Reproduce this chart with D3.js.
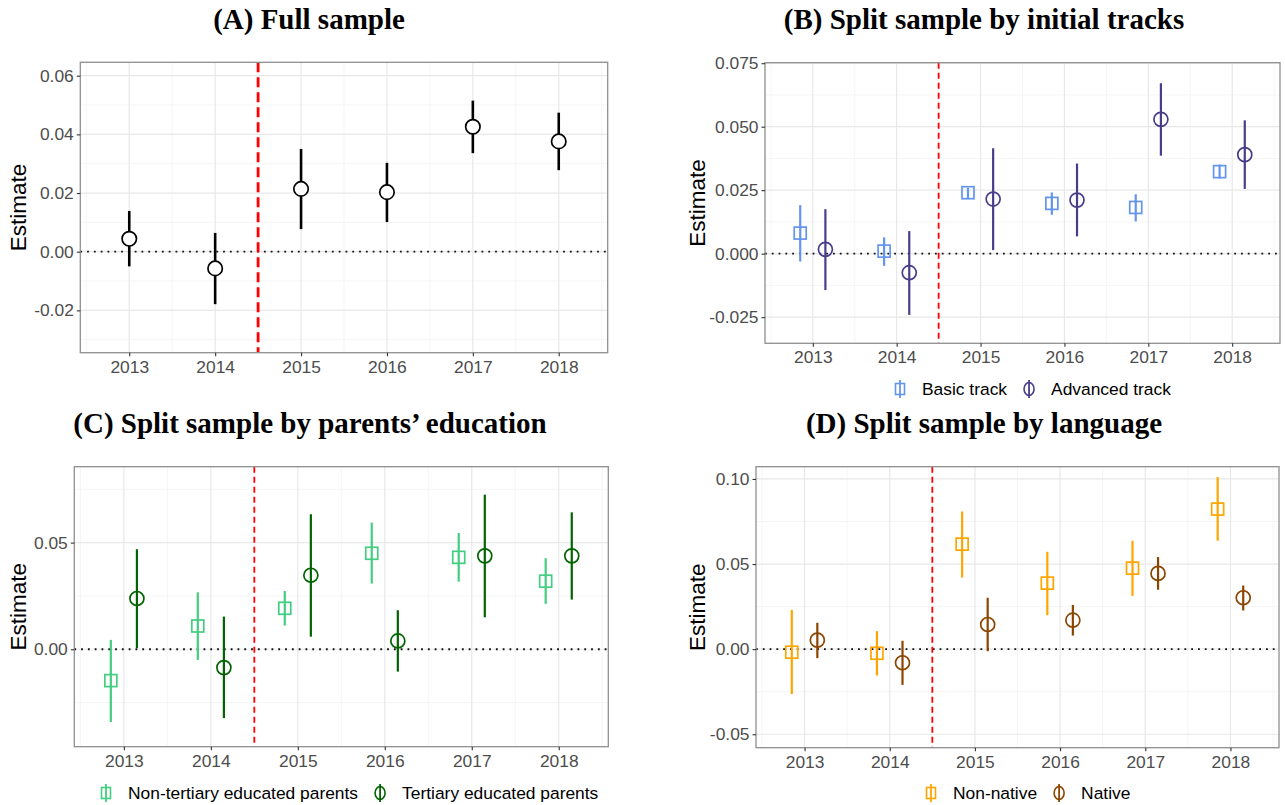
<!DOCTYPE html>
<html>
<head>
<meta charset="utf-8">
<script src="https://cdn.jsdelivr.net/npm/d3@7/dist/d3.min.js"></script>
<style>
body { margin: 0; background: #fff; }
svg { display: block; }
</style>
</head>
<body>
<div id="chart"></div>
<script>
var years = [2013, 2014, 2015, 2016, 2017, 2018];

// (A) full sample
var fullEst = [0.0044, -0.0057, 0.0214, 0.0203, 0.0426, 0.0376];
var fullLo = [-0.0050, -0.0179, 0.0077, 0.0101, 0.0336, 0.0278];
var fullHi = [0.0139, 0.0064, 0.0350, 0.0303, 0.0515, 0.0474];

// (B) initial tracks
var basicEst = [0.0081, 0.0010, 0.0240, 0.0198, 0.0182, 0.0323];
var basicLo = [-0.0031, -0.0048, 0.0217, 0.0153, 0.0127, 0.0296];
var basicHi = [0.0191, 0.0064, 0.0259, 0.0241, 0.0234, 0.0351];
var advEst = [0.0017, -0.0075, 0.0215, 0.0211, 0.0529, 0.0390];
var advLo = [-0.0143, -0.0241, 0.0014, 0.0068, 0.0386, 0.0255];
var advHi = [0.0175, 0.0089, 0.0415, 0.0355, 0.0671, 0.0525];

// (C) parents' education
var nonTertEst = [-0.0147, 0.0109, 0.0192, 0.0450, 0.0431, 0.0319];
var nonTertLo = [-0.0341, -0.0050, 0.0111, 0.0308, 0.0317, 0.0213];
var nonTertHi = [0.0044, 0.0267, 0.0273, 0.0594, 0.0545, 0.0427];
var tertEst = [0.0238, -0.0086, 0.0347, 0.0039, 0.0438, 0.0438];
var tertLo = [0.0005, -0.0323, 0.0059, -0.0105, 0.0150, 0.0233];
var tertHi = [0.0469, 0.0153, 0.0633, 0.0183, 0.0725, 0.0642];

// (D) language
var nonNatEst = [-0.0018, -0.0024, 0.0617, 0.0388, 0.0476, 0.0823];
var nonNatLo = [-0.0264, -0.0155, 0.0421, 0.0200, 0.0313, 0.0637];
var nonNatHi = [0.0231, 0.0106, 0.0809, 0.0572, 0.0637, 0.1011];
var natEst = [0.0053, -0.0080, 0.0145, 0.0170, 0.0445, 0.0302];
var natLo = [-0.0053, -0.0210, -0.0012, 0.0080, 0.0349, 0.0227];
var natHi = [0.0155, 0.0049, 0.0302, 0.0260, 0.0541, 0.0374];

var titles = ["(A) Full sample", "(B) Split sample by initial tracks",
  "(C) Split sample by parents\u2019 education", "(D) Split sample by language"];

var ticksA = [-0.02, 0, 0.02, 0.04, 0.06];
var ticksB = [-0.025, 0, 0.025, 0.05, 0.075];
var ticksC = [0, 0.05];
var ticksD = [-0.05, 0, 0.05, 0.10];

var W = 1285, H = 805;
var svg = d3.select("#chart").append("svg").attr("width", W).attr("height", H);

function pack(est, lo, hi) {
  return years.map(function(yr, i) { return { year: yr, est: est[i], lo: lo[i], hi: hi[i] }; });
}

function drawPanel(p) {
  var g = svg.append("g");
  var x = d3.scaleLinear().domain([2012.43, 2018.57]).range([p.left, p.right]);
  var y = d3.scaleLinear().domain(p.yDomain).range([p.bottom, p.top]);

  // grid
  var minorX = d3.range(2012.5, 2019, 1);
  g.selectAll(".mnx").data(minorX).enter().append("line")
    .attr("x1", x).attr("x2", x).attr("y1", p.top).attr("y2", p.bottom)
    .attr("stroke", "#f3f3f3").attr("stroke-width", 0.8);
  g.selectAll(".mny").data(p.minor).enter().append("line")
    .attr("x1", p.left).attr("x2", p.right).attr("y1", y).attr("y2", y)
    .attr("stroke", "#f3f3f3").attr("stroke-width", 0.8);
  g.selectAll(".mjx").data(years).enter().append("line")
    .attr("x1", x).attr("x2", x).attr("y1", p.top).attr("y2", p.bottom)
    .attr("stroke", "#e8e8e8").attr("stroke-width", 1.2);
  g.selectAll(".mjy").data(p.ticks).enter().append("line")
    .attr("x1", p.left).attr("x2", p.right).attr("y1", y).attr("y2", y)
    .attr("stroke", "#e8e8e8").attr("stroke-width", 1.2);

  // zero line
  g.append("line")
    .attr("x1", p.left).attr("x2", p.right).attr("y1", y(0)).attr("y2", y(0))
    .attr("stroke", "#111").attr("stroke-width", 1.8).attr("stroke-dasharray", "1.8,5");

  // policy line
  g.append("line")
    .attr("x1", x(2014.5)).attr("x2", x(2014.5)).attr("y1", p.top).attr("y2", p.bottom)
    .attr("stroke", "#ff0000").attr("stroke-width", p.redWidth).attr("stroke-dasharray", p.redDash);

  // series
  p.series.forEach(function(s) {
    var d = pack(s.est, s.lo, s.hi);
    g.selectAll(null).data(d).enter().append("line")
      .attr("x1", function(e) { return x(e.year + s.dx); })
      .attr("x2", function(e) { return x(e.year + s.dx); })
      .attr("y1", function(e) { return y(e.lo); })
      .attr("y2", function(e) { return y(e.hi); })
      .attr("stroke", s.color).attr("stroke-width", s.lw);
    if (s.shape == "square") {
      g.selectAll(null).data(d).enter().append("rect")
        .attr("x", function(e) { return x(e.year + s.dx) - 6; })
        .attr("y", function(e) { return y(e.est) - 6; })
        .attr("width", 12).attr("height", 12)
        .attr("fill", "none").attr("stroke", s.color).attr("stroke-width", 1.7);
    } else {
      g.selectAll(null).data(d).enter().append("circle")
        .attr("cx", function(e) { return x(e.year + s.dx); })
        .attr("cy", function(e) { return y(e.est); })
        .attr("r", s.r)
        .attr("fill", s.fill).attr("stroke", s.color).attr("stroke-width", 1.7);
    }
  });

  // border
  g.append("rect")
    .attr("x", p.left).attr("y", p.top)
    .attr("width", p.right - p.left).attr("height", p.bottom - p.top)
    .attr("fill", "none").attr("stroke", "#8f8f8f").attr("stroke-width", 1.3);

  // axes
  var fmt = d3.format(p.fmt);
  var ya = g.append("g").attr("transform", "translate(" + p.left + ",0)")
    .call(d3.axisLeft(y).tickValues(p.ticks).tickSize(3.5).tickPadding(3)
      .tickFormat(function(v) { return fmt(v).replace("\u2212", "-"); }));
  var xa = g.append("g").attr("transform", "translate(0," + p.bottom + ")")
    .call(d3.axisBottom(x).tickValues(years).tickSize(3.5).tickPadding(4)
      .tickFormat(d3.format("d")));
  [ya, xa].forEach(function(a) {
    a.select(".domain").remove();
    a.selectAll(".tick line").attr("stroke", "#333").attr("stroke-width", 1.1);
    a.selectAll(".tick text").attr("fill", "#4d4d4d")
      .style("font-family", "'Liberation Sans', Arial, sans-serif").style("font-size", "17.4px");
  });

  // y title
  g.append("text")
    .attr("transform", "translate(" + (p.left - p.ytitleOff) + "," + ((p.top + p.bottom) / 2) + ") rotate(-90)")
    .attr("text-anchor", "middle")
    .style("font-family", "'Liberation Sans', Arial, sans-serif").style("font-size", "22.5px")
    .text("Estimate");

  // title
  g.append("text")
    .attr("x", p.titleX).attr("y", p.titleY)
    .attr("text-anchor", "middle")
    .style("font-family", "'Liberation Serif', 'Times New Roman', serif")
    .style("font-weight", "bold").style("font-size", "29px")
    .text(p.title);

  // legend
  if (p.legend) {
    var lx = p.legend.x, ly = p.legend.y;
    p.series.forEach(function(s) {
      g.append("line")
        .attr("x1", lx).attr("x2", lx).attr("y1", ly - 9).attr("y2", ly + 9)
        .attr("stroke", s.color).attr("stroke-width", 1.8);
      if (s.shape == "square") {
        g.append("rect").attr("x", lx - 4.5).attr("y", ly - 5.5).attr("width", 9).attr("height", 11)
          .attr("fill", "none").attr("stroke", s.color).attr("stroke-width", 1.6);
      } else {
        g.append("ellipse").attr("cx", lx).attr("cy", ly).attr("rx", 5).attr("ry", 6.5)
          .attr("fill", "none").attr("stroke", s.color).attr("stroke-width", 1.6);
      }
      var t = g.append("text").attr("x", lx + 22).attr("y", ly + 6)
        .style("font-family", "'Liberation Sans', Arial, sans-serif").style("font-size", "17.4px")
        .attr("fill", "#000").text(s.label);
      lx = lx + 22 + t.node().getComputedTextLength() + 22;
    });
  }
}

drawPanel({
  left: 80.3, right: 607.7, top: 62.3, bottom: 352.7,
  yDomain: [-0.03444, 0.06457], ticks: ticksA, fmt: ".2f",
  minor: [-0.03, -0.01, 0.01, 0.03, 0.05],
  redWidth: 2.8, redDash: "10,5", ytitleOff: 54,
  title: titles[0], titleX: 309, titleY: 29,
  series: [{ est: fullEst, lo: fullLo, hi: fullHi, color: "#000", shape: "circle",
    fill: "#fff", r: 7.2, lw: 2.6, dx: 0 }]
});

drawPanel({
  left: 765, right: 1280, top: 62.7, bottom: 343.3,
  yDomain: [-0.0353, 0.0752], ticks: ticksB, fmt: ".3f",
  minor: [-0.0125, 0.0125, 0.0375, 0.0625],
  redWidth: 1.8, redDash: "6,4", ytitleOff: 60,
  title: titles[1], titleX: 984, titleY: 29,
  legend: { x: 900, y: 389 },
  series: [
    { est: basicEst, lo: basicLo, hi: basicHi, color: "#6495ed", shape: "square", lw: 2.2, dx: -0.15, label: "Basic track" },
    { est: advEst, lo: advLo, hi: advHi, color: "#483d8b", shape: "circle", fill: "none", r: 7, lw: 2.2, dx: 0.15, label: "Advanced track" }
  ]
});

drawPanel({
  left: 74.3, right: 608.3, top: 466.7, bottom: 746.7,
  yDomain: [-0.0457, 0.0856], ticks: ticksC, fmt: ".2f",
  minor: [-0.025, 0.025, 0.075],
  redWidth: 1.8, redDash: "6,4", ytitleOff: 48,
  title: titles[2], titleX: 310, titleY: 433,
  legend: { x: 106, y: 793 },
  series: [
    { est: nonTertEst, lo: nonTertLo, hi: nonTertHi, color: "#43cd80", shape: "square", lw: 2.2, dx: -0.15, label: "Non-tertiary educated parents" },
    { est: tertEst, lo: tertLo, hi: tertHi, color: "#006400", shape: "circle", fill: "none", r: 7, lw: 2.2, dx: 0.15, label: "Tertiary educated parents" }
  ]
});

drawPanel({
  left: 756, right: 1279, top: 466.7, bottom: 747.7,
  yDomain: [-0.0579, 0.1072], ticks: ticksD, fmt: ".2f",
  minor: [-0.025, 0.025, 0.075],
  redWidth: 1.8, redDash: "6,4", ytitleOff: 51,
  title: titles[3], titleX: 984, titleY: 433,
  legend: { x: 931, y: 793 },
  series: [
    { est: nonNatEst, lo: nonNatLo, hi: nonNatHi, color: "#ffa500", shape: "square", lw: 2.2, dx: -0.15, label: "Non-native" },
    { est: natEst, lo: natLo, hi: natHi, color: "#8b4500", shape: "circle", fill: "none", r: 7, lw: 2.2, dx: 0.15, label: "Native" }
  ]
});
</script>
</body>
</html>
